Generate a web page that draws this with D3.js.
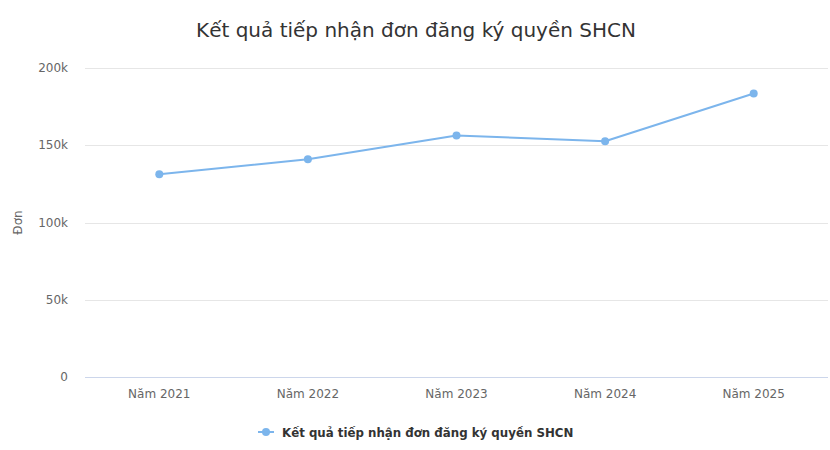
<!DOCTYPE html>
<html><head><meta charset="utf-8">
<script src="https://cdn.jsdelivr.net/npm/d3@7"></script>
<style>html,body{margin:0;padding:0;background:#fff;}</style>
</head><body>
<svg id="c" width="830" height="450"></svg>
<script>
const categories = ["Năm 2021","Năm 2022","Năm 2023","Năm 2024","Năm 2025"];
const values = [131200, 141000, 156300, 152600, 183500];
const yTicks = [0, 50000, 100000, 150000, 200000];
const yTickLabels = ["0","50k","100k","150k","200k"];
const title = "Kết quả tiếp nhận đơn đăng ký quyền SHCN";
const seriesName = "Kết quả tiếp nhận đơn đăng ký quyền SHCN";
const yTitle = "Đơn";

const svg = d3.select("#c");
const m = {left:85, right:828, top:68, bottom:377};
const x = d3.scaleBand().domain(categories).range([m.left, m.right]);
const y = d3.scaleLinear().domain([0,200000]).range([m.bottom, m.top]);
const color = "#7cb5ec";
const font = "'DejaVu Sans', Verdana, sans-serif";

svg.append("text").attr("x",416).attr("y",37).attr("text-anchor","middle")
  .attr("font-family",font).attr("font-size",20).attr("fill","#333").text(title);

// grid
svg.append("g").selectAll("line").data(yTicks.slice(1)).join("line")
  .attr("x1",m.left).attr("x2",m.right)
  .attr("y1",d=>Math.round(y(d))+0.5).attr("y2",d=>Math.round(y(d))+0.5)
  .attr("stroke","#e6e6e6").attr("stroke-width",1);

// y labels
svg.append("g").selectAll("text").data(yTicks).join("text")
  .attr("x",68).attr("y",d=>y(d)+4).attr("text-anchor","end")
  .attr("font-family",font).attr("font-size",12).attr("fill","#666")
  .text((d,i)=>yTickLabels[i]);

svg.append("text").attr("transform",`translate(22,${(m.top+m.bottom)/2}) rotate(-90)`)
  .attr("text-anchor","middle").attr("font-family",font).attr("font-size",12)
  .attr("fill","#666").text(yTitle);

// x axis line
svg.append("line").attr("x1",m.left).attr("x2",m.right)
  .attr("y1",m.bottom+0.5).attr("y2",m.bottom+0.5).attr("stroke","#ccd6eb");

svg.append("g").selectAll("text").data(categories).join("text")
  .attr("x",d=>x(d)+x.bandwidth()/2).attr("y",398).attr("text-anchor","middle")
  .attr("font-family",font).attr("font-size",12).attr("fill","#666").text(d=>d);

// line
const line = d3.line().x((d,i)=>x(categories[i])+x.bandwidth()/2).y(d=>y(d));
svg.append("path").datum(values).attr("d",line).attr("fill","none")
  .attr("stroke",color).attr("stroke-width",2).attr("stroke-linejoin","round");
svg.append("g").selectAll("circle").data(values).join("circle")
  .attr("cx",(d,i)=>x(categories[i])+x.bandwidth()/2).attr("cy",d=>y(d))
  .attr("r",4).attr("fill",color);

// legend
svg.append("line").attr("x1",258).attr("x2",274).attr("y1",432).attr("y2",432)
  .attr("stroke",color).attr("stroke-width",2);
svg.append("circle").attr("cx",266).attr("cy",432).attr("r",4).attr("fill",color);
svg.append("text").attr("x",282).attr("y",436.5).attr("font-family",font)
  .attr("font-size",11.8).attr("font-weight","bold").attr("fill","#333").text(seriesName);
</script>
</body></html>
